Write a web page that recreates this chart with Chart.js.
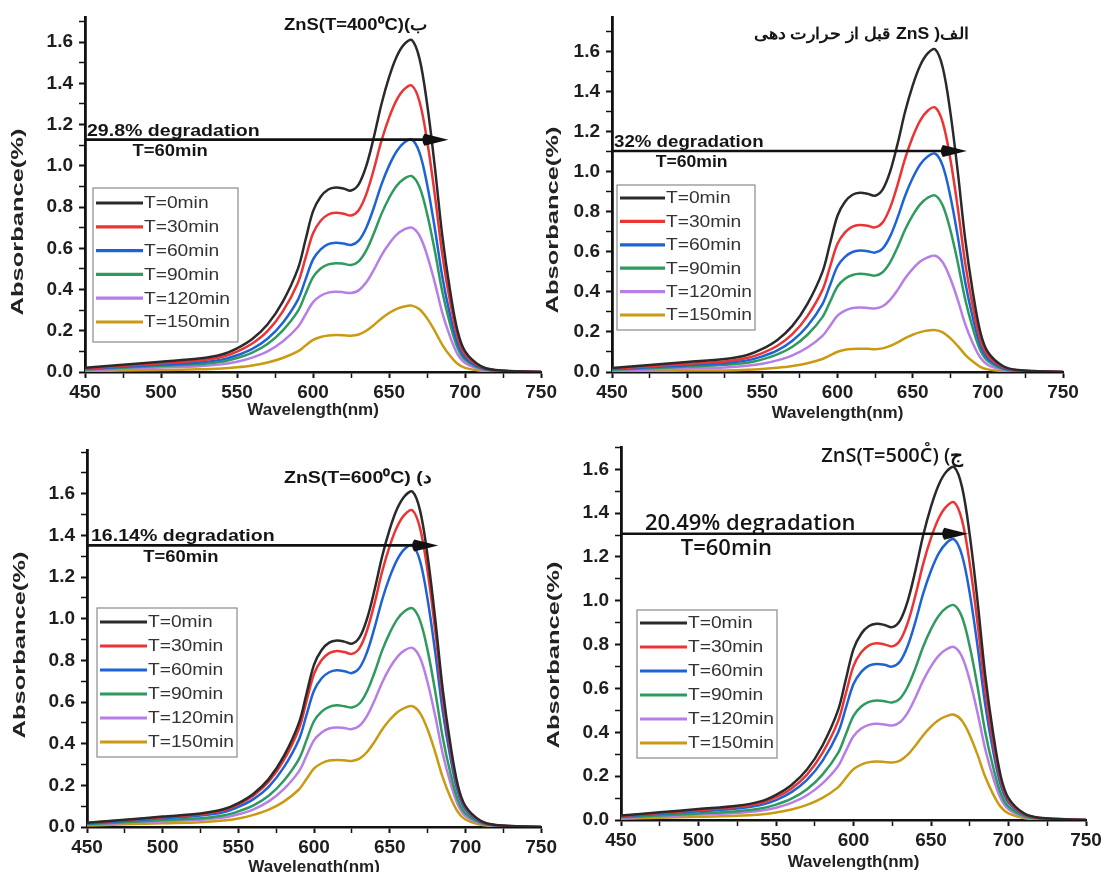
<!DOCTYPE html>
<html>
<head>
<meta charset="utf-8">
<script src="https://cdn.jsdelivr.net/npm/chart.js@4.4.1/dist/chart.umd.min.js"></script>
<style>
  html, body { margin: 0; padding: 0; background: #fff; overflow: hidden; width: 1113px; height: 872px; }
  .panel { position: absolute; }
</style>
</head>
<body>
<div class="panel" style="left:0;top:0;width:560px;height:430px"><canvas id="c400"></canvas></div>
<div class="panel" style="left:545px;top:0;width:568px;height:430px"><canvas id="cBefore"></canvas></div>
<div class="panel" style="left:0;top:430px;width:560px;height:450px"><canvas id="c600"></canvas></div>
<div class="panel" style="left:545px;top:430px;width:568px;height:450px"><canvas id="c500"></canvas></div>
<script>
// --- data ---

const wavelengths = [450, 475, 500, 525, 540, 550, 560, 570, 580, 590, 595, 600, 605, 610, 615, 620, 625, 630, 635, 640, 645, 650, 655, 660, 665, 670, 675, 680, 685, 690, 695, 700, 710, 720, 750];
const xTicks = [450, 500, 550, 600, 650, 700, 750];
const yTicks = [0, 0.2, 0.4, 0.6, 0.8, 1.0, 1.2, 1.4, 1.6];
const seriesLabels = ['T=0min', 'T=30min', 'T=60min', 'T=90min', 'T=120min', 'T=150min'];

// T=0 is the same starting dye solution in every panel
const abs0 = [0.02, 0.035, 0.05, 0.065, 0.085, 0.115, 0.16, 0.23, 0.34, 0.5, 0.64, 0.78, 0.85, 0.885, 0.895, 0.89, 0.88, 0.91, 1.0, 1.14, 1.3, 1.43, 1.53, 1.59, 1.61, 1.52, 1.3, 1.0, 0.66, 0.4, 0.2, 0.1, 0.03, 0.01, 0];

// ZnS (T=400 C)
const t400_30 = [0.017, 0.030, 0.043, 0.056, 0.073, 0.099, 0.138, 0.198, 0.293, 0.432, 0.552, 0.673, 0.734, 0.764, 0.772, 0.768, 0.759, 0.785, 0.863, 0.984, 1.122, 1.234, 1.320, 1.372, 1.389, 1.312, 1.122, 0.863, 0.570, 0.345, 0.173, 0.086, 0.026, 0.009, 0];
const t400_60 = [0.014, 0.025, 0.035, 0.046, 0.060, 0.081, 0.112, 0.161, 0.238, 0.35, 0.448, 0.546, 0.595, 0.62, 0.627, 0.623, 0.616, 0.637, 0.70, 0.798, 0.91, 1.001, 1.071, 1.113, 1.127, 1.064, 0.91, 0.70, 0.462, 0.28, 0.14, 0.07, 0.021, 0.007, 0];
const t400_90 = [0.012, 0.021, 0.030, 0.038, 0.050, 0.068, 0.094, 0.136, 0.201, 0.295, 0.378, 0.460, 0.502, 0.522, 0.528, 0.525, 0.519, 0.537, 0.59, 0.673, 0.767, 0.844, 0.903, 0.938, 0.950, 0.897, 0.767, 0.59, 0.389, 0.236, 0.118, 0.059, 0.018, 0.006, 0];
const t400_120 = [0.009, 0.015, 0.022, 0.028, 0.037, 0.050, 0.070, 0.100, 0.148, 0.218, 0.278, 0.339, 0.370, 0.385, 0.389, 0.387, 0.383, 0.396, 0.435, 0.496, 0.566, 0.622, 0.666, 0.692, 0.700, 0.661, 0.566, 0.435, 0.287, 0.174, 0.087, 0.044, 0.013, 0.004, 0];
const t400_150 = [0.004, 0.007, 0.010, 0.013, 0.017, 0.023, 0.032, 0.046, 0.068, 0.100, 0.128, 0.156, 0.170, 0.177, 0.179, 0.178, 0.176, 0.182, 0.200, 0.228, 0.260, 0.286, 0.306, 0.318, 0.322, 0.304, 0.260, 0.200, 0.132, 0.080, 0.040, 0.020, 0.006, 0.002, 0];

// ZnS before heat treatment
const before30 = [0.016, 0.029, 0.041, 0.053, 0.070, 0.094, 0.131, 0.189, 0.279, 0.41, 0.525, 0.640, 0.697, 0.726, 0.734, 0.730, 0.722, 0.746, 0.82, 0.935, 1.066, 1.173, 1.255, 1.304, 1.320, 1.246, 1.066, 0.82, 0.541, 0.328, 0.164, 0.082, 0.025, 0.008, 0];
const before60 = [0.014, 0.024, 0.034, 0.044, 0.058, 0.078, 0.108, 0.156, 0.230, 0.339, 0.433, 0.528, 0.575, 0.599, 0.606, 0.603, 0.596, 0.616, 0.677, 0.772, 0.880, 0.968, 1.036, 1.076, 1.090, 1.029, 0.880, 0.677, 0.447, 0.271, 0.135, 0.068, 0.020, 0.007, 0];
const before90 = [0.011, 0.019, 0.027, 0.036, 0.046, 0.063, 0.088, 0.126, 0.186, 0.274, 0.350, 0.427, 0.465, 0.484, 0.490, 0.487, 0.481, 0.498, 0.547, 0.624, 0.711, 0.782, 0.837, 0.870, 0.881, 0.831, 0.711, 0.547, 0.361, 0.219, 0.109, 0.055, 0.016, 0.005, 0];
const before120 = [0.007, 0.013, 0.018, 0.023, 0.031, 0.041, 0.058, 0.083, 0.122, 0.180, 0.230, 0.281, 0.306, 0.319, 0.322, 0.320, 0.317, 0.328, 0.36, 0.410, 0.468, 0.515, 0.551, 0.572, 0.580, 0.547, 0.468, 0.36, 0.238, 0.144, 0.072, 0.036, 0.011, 0.004, 0];
const before150 = [0.003, 0.005, 0.007, 0.008, 0.011, 0.015, 0.021, 0.030, 0.044, 0.065, 0.083, 0.101, 0.111, 0.115, 0.116, 0.116, 0.114, 0.118, 0.130, 0.148, 0.169, 0.186, 0.199, 0.207, 0.209, 0.198, 0.169, 0.130, 0.086, 0.052, 0.026, 0.013, 0.004, 0.001, 0];

// ZnS (T=600 C)
const t600_30 = [0.019, 0.033, 0.047, 0.061, 0.080, 0.109, 0.151, 0.217, 0.321, 0.472, 0.604, 0.736, 0.802, 0.835, 0.845, 0.840, 0.831, 0.859, 0.944, 1.076, 1.227, 1.350, 1.444, 1.501, 1.520, 1.435, 1.227, 0.944, 0.623, 0.378, 0.189, 0.094, 0.028, 0.009, 0];
const t600_60 = [0.017, 0.029, 0.042, 0.055, 0.071, 0.097, 0.134, 0.193, 0.286, 0.42, 0.538, 0.655, 0.714, 0.743, 0.752, 0.748, 0.739, 0.764, 0.84, 0.958, 1.092, 1.201, 1.285, 1.336, 1.352, 1.277, 1.092, 0.84, 0.554, 0.336, 0.168, 0.084, 0.025, 0.008, 0];
const t600_90 = [0.013, 0.023, 0.033, 0.042, 0.055, 0.075, 0.104, 0.150, 0.222, 0.326, 0.417, 0.509, 0.554, 0.577, 0.584, 0.580, 0.574, 0.593, 0.652, 0.743, 0.848, 0.932, 0.998, 1.037, 1.050, 0.991, 0.848, 0.652, 0.430, 0.261, 0.130, 0.065, 0.020, 0.007, 0];
const t600_120 = [0.011, 0.019, 0.027, 0.035, 0.045, 0.061, 0.085, 0.123, 0.182, 0.267, 0.342, 0.417, 0.454, 0.473, 0.478, 0.475, 0.470, 0.486, 0.534, 0.609, 0.694, 0.764, 0.817, 0.849, 0.860, 0.812, 0.694, 0.534, 0.352, 0.214, 0.107, 0.053, 0.016, 0.005, 0];
const t600_150 = [0.007, 0.013, 0.018, 0.023, 0.031, 0.041, 0.058, 0.083, 0.122, 0.180, 0.230, 0.281, 0.306, 0.319, 0.322, 0.320, 0.317, 0.328, 0.36, 0.410, 0.468, 0.515, 0.551, 0.572, 0.580, 0.547, 0.468, 0.36, 0.238, 0.144, 0.072, 0.036, 0.011, 0.004, 0];

// ZnS (T=500 C)
const t500_30 = [0.018, 0.032, 0.045, 0.059, 0.077, 0.104, 0.144, 0.207, 0.306, 0.45, 0.576, 0.702, 0.765, 0.797, 0.806, 0.801, 0.792, 0.819, 0.90, 1.026, 1.17, 1.287, 1.377, 1.431, 1.449, 1.368, 1.17, 0.90, 0.594, 0.36, 0.18, 0.09, 0.027, 0.009, 0];
const t500_60 = [0.016, 0.028, 0.040, 0.052, 0.068, 0.091, 0.127, 0.183, 0.270, 0.398, 0.509, 0.620, 0.676, 0.704, 0.712, 0.708, 0.700, 0.723, 0.795, 0.906, 1.034, 1.137, 1.216, 1.264, 1.280, 1.208, 1.034, 0.795, 0.525, 0.318, 0.159, 0.080, 0.024, 0.008, 0];
const t500_90 = [0.012, 0.021, 0.030, 0.040, 0.052, 0.070, 0.097, 0.140, 0.207, 0.305, 0.390, 0.475, 0.518, 0.539, 0.545, 0.542, 0.536, 0.554, 0.609, 0.694, 0.792, 0.871, 0.932, 0.968, 0.980, 0.926, 0.792, 0.609, 0.402, 0.244, 0.122, 0.061, 0.018, 0.006, 0];
const t500_120 = [0.010, 0.017, 0.025, 0.032, 0.042, 0.056, 0.078, 0.113, 0.167, 0.245, 0.314, 0.382, 0.417, 0.434, 0.439, 0.436, 0.431, 0.446, 0.49, 0.559, 0.637, 0.701, 0.750, 0.779, 0.789, 0.745, 0.637, 0.49, 0.323, 0.196, 0.098, 0.049, 0.015, 0.005, 0];
const t500_150 = [0.006, 0.010, 0.015, 0.019, 0.025, 0.034, 0.048, 0.069, 0.101, 0.149, 0.191, 0.232, 0.253, 0.264, 0.267, 0.265, 0.262, 0.271, 0.298, 0.340, 0.387, 0.426, 0.456, 0.474, 0.480, 0.453, 0.387, 0.298, 0.197, 0.119, 0.060, 0.030, 0.009, 0.003, 0];

// arrow level (T=60 peak) and degradation labels, per panel
const degradationLabels = ['29.8% degradation', '32% degradation', '16.14% degradation', '20.49% degradation'];
const arrowLevels = [1.127, 1.103, 1.352, 1.306];


// --- styles ---

const seriesColors = ['#2a2a2a', '#ec3434', '#1e63d6', '#2f9a5e', '#b67ee6', '#c99a12'];
const BOLD = '"Liberation Sans", Arial, sans-serif';
const CALIBRI = '"Open Sans", "Noto Sans", sans-serif';


// --- drawing helpers ---

function buildDatasets(seriesList) {
    return seriesList.map((values, i) => ({
        label: seriesLabels[i],
        data: wavelengths.map((w, k) => ({ x: w, y: values[k] })),
        borderColor: seriesColors[i],
        borderWidth: 2.5,
        pointRadius: 0,
        fill: false,
        tension: 0.35
    }));
}

const isListed = (list, v) => list.some(t => Math.abs(t - v) < 1e-6);

// text drawn a little wider than the font, like the stretched figure
function wideText(ctx, text, x, y, sx) {
    ctx.save();
    ctx.translate(x, y);
    ctx.scale(sx, 1);
    ctx.fillText(text, 0, 0);
    ctx.restore();
}

// title, arrow, degradation text, rotated y label and framed legend
const panelDecor = {
    id: 'panelDecor',
    afterDatasetsDraw(chart, args, o) {
        const { ctx, chartArea, scales: { x, y } } = chart;
        ctx.save();

        // arrow along the T=60 peak level
        const ay = y.getPixelForValue(o.arrowY);
        const tip = x.getPixelForValue(o.arrowTip);
        ctx.strokeStyle = '#111';
        ctx.fillStyle = '#111';
        ctx.lineWidth = 2.6;
        ctx.beginPath();
        ctx.moveTo(chartArea.left, ay);
        ctx.lineTo(tip - 14, ay);
        ctx.stroke();
        ctx.beginPath();
        ctx.moveTo(tip, ay);
        ctx.lineTo(tip - 24, ay - 6);
        ctx.quadraticCurveTo(tip - 28, ay, tip - 24, ay + 6);
        ctx.closePath();
        ctx.fill();

        ctx.fillStyle = '#151515';
        ctx.font = o.degFont;
        ctx.textAlign = 'left';
        ctx.textBaseline = 'alphabetic';
        wideText(ctx, o.degText, chartArea.left + o.degDx, ay - 4, o.sx);

        ctx.font = o.subFont;
        ctx.textAlign = 'center';
        ctx.textBaseline = 'top';
        wideText(ctx, 'T=60min', x.getPixelForValue(o.subX), ay + 4, o.sx);

        // panel caption
        ctx.font = o.titleFont;
        ctx.direction = o.titleDir || 'ltr';
        ctx.textAlign = 'center';
        ctx.textBaseline = 'middle';
        wideText(ctx, o.title, x.getPixelForValue(o.titleAt[0]), y.getPixelForValue(o.titleAt[1]), o.sx);
        ctx.direction = 'ltr';

        // y axis title, long and narrow as in the figure
        ctx.save();
        ctx.translate(o.yTitle[0], o.yTitle[1]);
        ctx.rotate(-Math.PI / 2);
        ctx.scale(1.5, 1);
        ctx.font = 'bold 17px ' + BOLD;
        ctx.fillStyle = '#222';
        ctx.fillText('Absorbance(%)', 0, 0);
        ctx.restore();

        // legend
        const L = o.legend;
        ctx.strokeStyle = '#8a8a8a';
        ctx.lineWidth = 1.2;
        ctx.strokeRect(L.left, L.top, L.width, L.height);
        ctx.font = '16px ' + BOLD;
        ctx.textAlign = 'left';
        ctx.textBaseline = 'middle';
        chart.data.datasets.forEach((ds, i) => {
            const ry = L.top + L.row0 + i * L.gap;
            ctx.strokeStyle = ds.borderColor;
            ctx.lineWidth = 3.2;
            ctx.beginPath();
            ctx.moveTo(L.left + 3, ry);
            ctx.lineTo(L.left + 3 + L.line, ry);
            ctx.stroke();
            ctx.fillStyle = '#333';
            wideText(ctx, ds.label, L.left + 4 + L.line, ry + 1, 1.2);
        });

        ctx.restore();
    }
};

function makePanel(canvasId, seriesList, frame, decor) {
    const ctx = document.getElementById(canvasId).getContext('2d');
    return new Chart(ctx, {
        type: 'line',
        data: { datasets: buildDatasets(seriesList) },
        options: {
            responsive: true,
            maintainAspectRatio: false,
            animation: false,
            devicePixelRatio: 1,
            layout: { autoPadding: false, padding: { left: 0, right: frame.padRight, top: frame.padTop, bottom: 0 } },
            plugins: { legend: { display: false }, tooltip: { enabled: false }, panelDecor: decor },
            scales: {
                x: {
                    type: 'linear',
                    min: 450,
                    max: 750,
                    afterFit: s => { s.height = frame.xHeight; },
                    border: { display: true, color: '#111', width: 2.5 },
                    grid: { drawOnChartArea: false, tickLength: 6, color: '#111',
                            tickWidth: c => isListed(xTicks, c.tick.value) ? 2 : 1.5 },
                    ticks: {
                        stepSize: 25, autoSkip: false, maxRotation: 0, padding: 3,
                        color: '#1e1e1e', font: { family: BOLD, size: 19, weight: 'bold' },
                        callback: v => isListed(xTicks, v) ? String(v) : ''
                    },
                    title: { display: true, text: 'Wavelength(nm)', color: '#222',
                             font: { family: BOLD, size: 17, weight: 'bold' },
                             padding: { top: 0, bottom: frame.xTitlePad } }
                },
                y: {
                    type: 'linear',
                    min: 0,
                    max: frame.yMax,
                    afterFit: s => { s.width = frame.yWidth; },
                    border: { display: true, color: '#111', width: 2.8 },
                    grid: { drawOnChartArea: false, tickLength: 6, color: '#111',
                            tickWidth: c => isListed(yTicks, c.tick.value) ? 2 : 1.5 },
                    ticks: {
                        stepSize: 0.1, autoSkip: false, includeBounds: false, padding: 6,
                        color: '#1e1e1e', font: { family: BOLD, size: 19, weight: 'bold' },
                        callback: v => isListed(yTicks, v) ? v.toFixed(1) : ''
                    }
                }
            }
        },
        plugins: [panelDecor]
    });
}


// --- the four panels ---

makePanel('c400', [abs0, t400_30, t400_60, t400_90, t400_120, t400_150],
    { yWidth: 85, padRight: 12, padTop: 13, xHeight: 58, yMax: 1.72, xTitlePad: 9 },
    {
        title: 'ZnS(T=400⁰C)(ب', titleAt: [628, 1.68], titleFont: 'bold 16px ' + BOLD, sx: 1.15,
        arrowY: arrowLevels[0], arrowTip: 689,
        degText: degradationLabels[0], degDx: 2, degFont: 'bold 17px ' + BOLD,
        subX: 506, subFont: 'bold 16px ' + BOLD,
        yTitle: [18, 222],
        legend: { left: 93, top: 188, width: 145, height: 154, row0: 15, gap: 23.8, line: 47 }
    });

makePanel('cBefore', [abs0, before30, before60, before90, before120, before150],
    { yWidth: 67, padRight: 50, padTop: 13, xHeight: 58, yMax: 1.77, xTitlePad: 6 },
    {
        title: 'الف( ZnS قبل از حرارت دهی', titleDir: 'rtl', titleAt: [616, 1.685], titleFont: 'bold 16px ' + BOLD, sx: 1.1,
        arrowY: arrowLevels[1], arrowTip: 686,
        degText: degradationLabels[1], degDx: 2, degFont: 'bold 17px ' + BOLD,
        subX: 503, subFont: 'bold 16px ' + BOLD,
        yTitle: [8, 220],
        legend: { left: 72, top: 185, width: 138, height: 145, row0: 13, gap: 23.4, line: 45 }
    });

makePanel('c600', [abs0, t600_30, t600_60, t600_90, t600_120, t600_150],
    { yWidth: 87, padRight: 12, padTop: 20, xHeight: 53, yMax: 1.81, xTitlePad: 2 },
    {
        title: 'ZnS(T=600⁰C) (د', titleAt: [629, 1.675], titleFont: 'bold 17px ' + BOLD, sx: 1.15,
        arrowY: arrowLevels[2], arrowTip: 682,
        degText: degradationLabels[2], degDx: 4, degFont: 'bold 17px ' + BOLD,
        subX: 512, subFont: 'bold 16px ' + BOLD,
        yTitle: [20, 215],
        legend: { left: 97, top: 178, width: 140, height: 149, row0: 14, gap: 24, line: 47 }
    });

makePanel('c500', [abs0, t500_30, t500_60, t500_90, t500_120, t500_150],
    { yWidth: 76, padRight: 27, padTop: 12, xHeight: 60, yMax: 1.70, xTitlePad: 7 },
    {
        title: 'ZnS(T=500C̊) (ج', titleAt: [625, 1.66], titleFont: '600 20px ' + CALIBRI, sx: 1.0,
        arrowY: arrowLevels[3], arrowTip: 674,
        degText: degradationLabels[3], degDx: 24, degFont: '600 22px ' + CALIBRI,
        subX: 518, subFont: '600 22px ' + CALIBRI,
        yTitle: [9, 225],
        legend: { left: 92, top: 180, width: 140, height: 148, row0: 13, gap: 24, line: 47 }
    });
</script>
</body>
</html>
